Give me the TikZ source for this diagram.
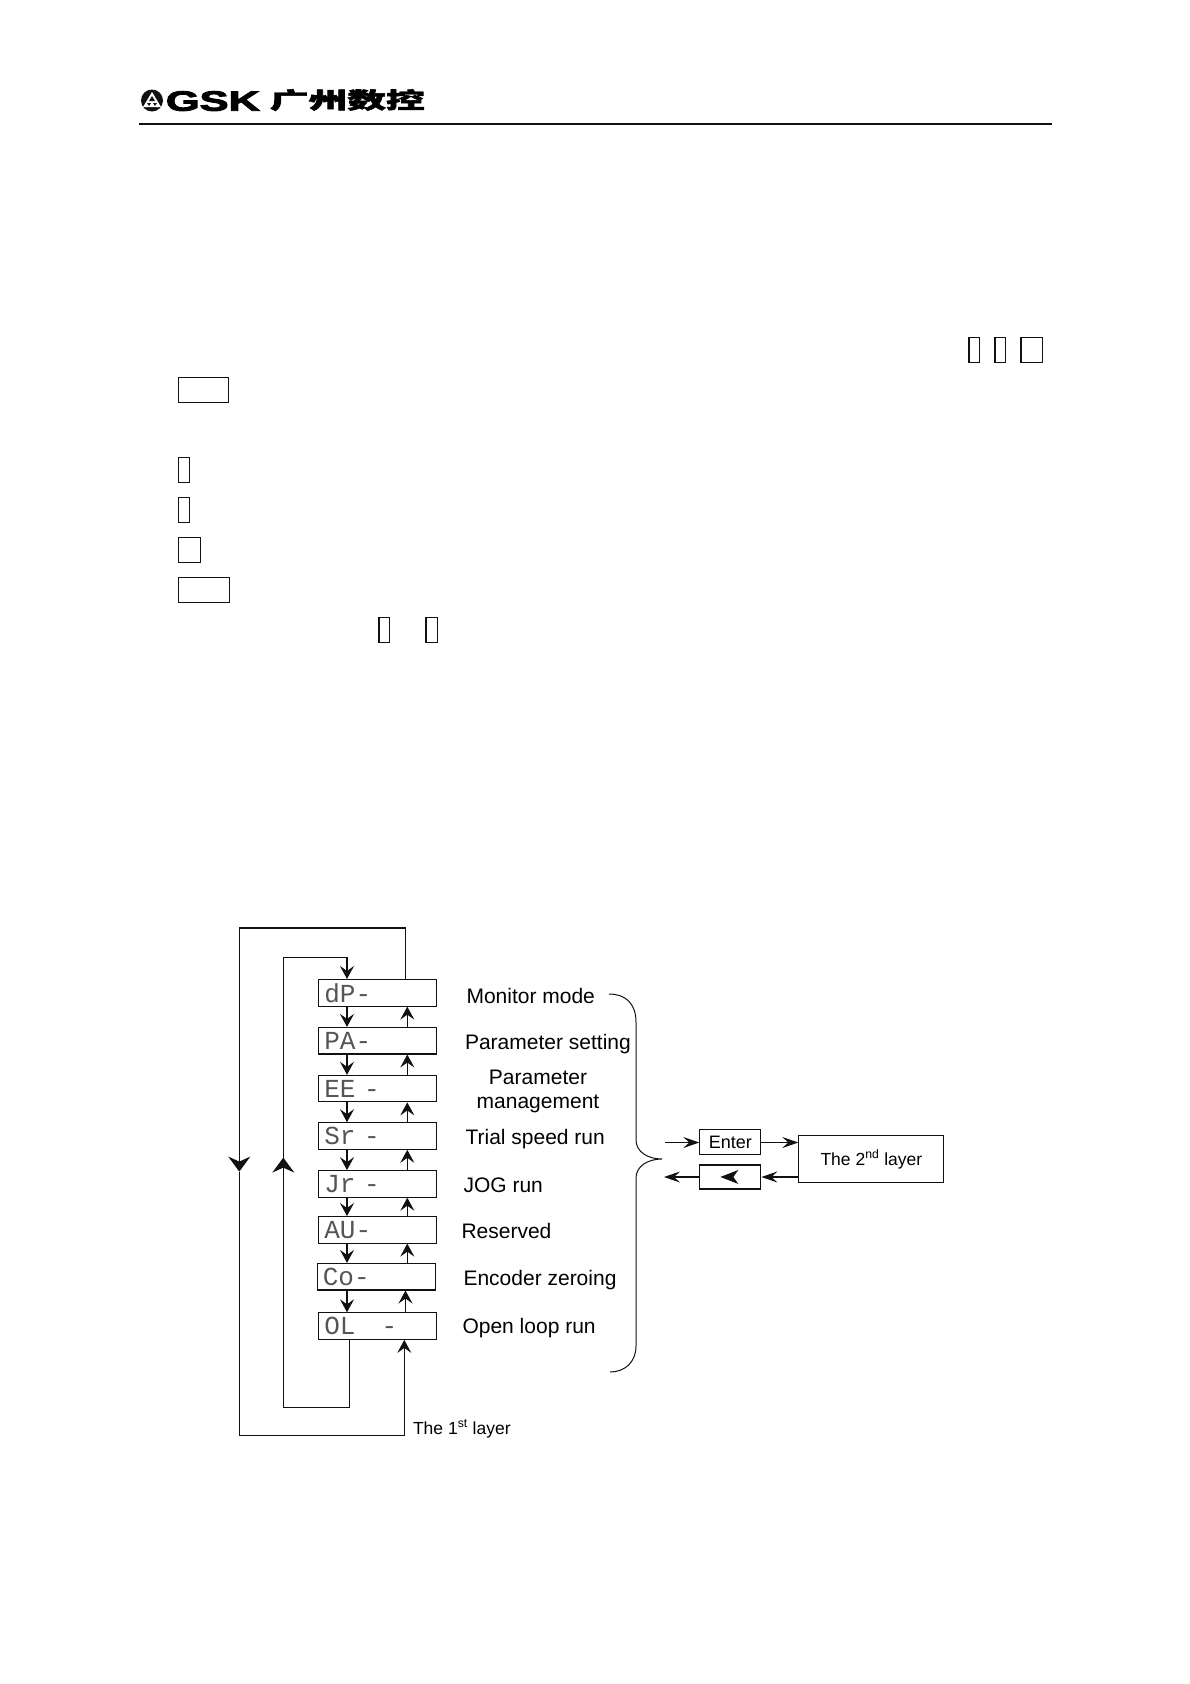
\documentclass[tikz,border=0pt]{standalone}
\usepackage{fontspec}
\setmainfont{Liberation Sans}
\setmonofont{Liberation Mono}
\newfontfamily\cjkfont[BoldFeatures={FakeBold=2}]{Noto Sans CJK SC}
\newfontfamily\logofont[BoldFeatures={FakeBold=3}]{Liberation Sans}
\usetikzlibrary{arrows.meta, positioning, calc}
\definecolor{inkBlack}{HTML}{111111}
\definecolor{segGray}{HTML}{555555}

\begin{document}
\begin{tikzpicture}[
    x=1pt, y=-1pt, line width=1.1pt, draw=inkBlack,
    dispbox/.style={draw, rectangle, minimum width=118pt, minimum height=26.5pt,
                 inner sep=0pt, text width=107pt, align=left,
                 font=\fontsize{26}{26}\selectfont\ttfamily\color{segGray}},
    keybox/.style={draw, rectangle, inner sep=0pt, minimum height=25pt, line width=1.2pt},
    lbl/.style={anchor=base west, inner sep=0pt, font=\fontsize{21}{24}\selectfont},
    smalllbl/.style={inner sep=0pt, font=\fontsize{17.5}{20}\selectfont},
    stepline/.style={-{Stealth[inset=5pt, length=13pt, width=14pt]}},
    sideline/.style={-{Stealth[inset=6pt, length=16pt, width=11pt]}},
    bigline/.style={-{Stealth[inset=5pt, length=15pt, width=22pt]}},
  ]
    \path[use as bounding box] (0,0) rectangle (1190,1684);

    \fill[inkBlack] (152,100.5) circle (11);
    \fill[white] (152,92) -- (161,107) -- (143,107) -- cycle;
    \fill[inkBlack] (152,96) -- (155,101) -- (149,101) -- cycle;
    \fill[inkBlack] (147,103) -- (151,103) -- (149,106) -- cycle;
    \fill[inkBlack] (153,103) -- (157,103) -- (155,106) -- cycle;
    \node[inner sep=0pt, anchor=base west, xscale=1.55, transform shape,
          font=\fontsize{28}{28}\selectfont\logofont\bfseries] (logogsk) at (165,110.7) {GSK};
    \node[inner sep=0pt, anchor=base west, xscale=1.72, transform shape,
          font=\fontsize{22.5}{23}\selectfont\cjkfont\bfseries] (logocn) at (269,108.5) {广州数控};
    \draw[line width=1.2pt] (139,124) -- (1052,124);

    \node[keybox, anchor=north west, minimum width=10.5pt] (ka) at (968.3,337) {};
    \node[keybox, anchor=north west, minimum width=10.5pt] (kb) at (994.3,337) {};
    \node[keybox, anchor=north west, minimum width=21.5pt] (kc) at (1020.3,337) {};
    \node[keybox, anchor=north west, minimum width=49.5pt] (kd) at (178,377) {};
    \node[keybox, anchor=north west, minimum width=10.5pt] (ke) at (178,457) {};
    \node[keybox, anchor=north west, minimum width=10.5pt] (kf) at (178,497) {};
    \node[keybox, anchor=north west, minimum width=21.5pt] (kg) at (178,537) {};
    \node[keybox, anchor=north west, minimum width=50.5pt] (kh) at (178,577) {};
    \node[keybox, anchor=north west, minimum width=10.5pt] (ki) at (378.3,617) {};
    \node[keybox, anchor=north west, minimum width=11.5pt] (kj) at (425.3,617) {};

    \node[dispbox, anchor=north west] (dp) at (318.3,979) {dP-};
    \node[dispbox, below=20.3pt of dp] (pa) {PA-};
    \node[dispbox, below=20.3pt of pa] (ee) {EE -};
    \node[dispbox, below=19.8pt of ee] (sr) {Sr -};
    \node[dispbox, below=20.3pt of sr] (jr) {Jr  -};
    \node[dispbox, below=18.3pt of jr] (au) {AU-};
    \node[dispbox, below=19.3pt of au, xshift=-1.5pt] (co) {Co-};
    \node[dispbox, below=21.8pt of co, xshift=1.5pt]  (ol) {OL\ \ \ -};

    \coordinate (dnx) at (347,0);
    \coordinate (upx) at (407.3,0);
    \coordinate (upxb) at (405.5,0);
    \coordinate (loopa) at (283.3,957.3);
    \coordinate (loopb) at (283.3,1407.3);
    \coordinate (loopc) at (283.3,1157.6);
    \coordinate (outa) at (239.3,928);
    \coordinate (outb) at (239.3,1435.7);
    \coordinate (outc) at (239.3,1171.6);

    \draw[stepline] (dp.south -| dnx) -- (pa.north -| dnx);
    \draw[stepline] (pa.south -| dnx) -- (ee.north -| dnx);
    \draw[stepline] (ee.south -| dnx) -- (sr.north -| dnx);
    \draw[stepline] (sr.south -| dnx) -- (jr.north -| dnx);
    \draw[stepline] (jr.south -| dnx) -- (au.north -| dnx);
    \draw[stepline] (au.south -| dnx) -- (co.north -| dnx);
    \draw[stepline] (co.south -| dnx) -- (ol.north -| dnx);

    \draw[stepline] (pa.north -| upx) -- (dp.south -| upx);
    \draw[stepline] (ee.north -| upx) -- (pa.south -| upx);
    \draw[stepline] (sr.north -| upx) -- (ee.south -| upx);
    \draw[stepline] (jr.north -| upx) -- (sr.south -| upx);
    \draw[stepline] (au.north -| upx) -- (jr.south -| upx);
    \draw[stepline] (co.north -| upx) -- (au.south -| upx);
    \draw[stepline] (ol.north -| upxb) -- (co.south -| upxb);

    \draw[bigline] (ol.south -| 349.3,0) |- (loopb) -- (loopc);
    \draw[stepline] (loopc) -- (loopa) -- (loopa -| dnx) -- (dp.north -| dnx);
    \draw[bigline] (dp.north -| upxb) |- (outa) -- (outc);
    \draw[stepline] (outc) -- (outb) -- (outb -| 404.3,0) -- (ol.south -| 404.3,0);

    \node[lbl] (l1) at (466,1003) {Monitor mode};
    \node[lbl] (l2) at (464.5,1049) {Parameter setting};
    \node[lbl, anchor=base, align=center] (l3) at (538,1108) {Parameter\\management};
    \node[lbl] (l4) at (465,1144) {Trial speed run};
    \node[lbl] (l5) at (463,1192) {JOG run};
    \node[lbl] (l6) at (461,1238.7) {Reserved};
    \node[lbl] (l7) at (463,1285) {Encoder zeroing};
    \node[lbl] (l8) at (462,1333) {Open loop run};
    \node[smalllbl, anchor=base west] (first) at (412.5,1434) {The 1\textsuperscript{st} layer};

    \draw[line width=1pt] (609,994) .. controls (625,994) and (636,1003) .. (636,1022)
      -- (636,1140) .. controls (636,1152) and (648,1159) .. (662,1159)
      .. controls (648,1159) and (636,1166) .. (636,1178)
      -- (636,1346) .. controls (636,1362) and (625,1372) .. (610,1372);

    \node[draw, rectangle, anchor=north west, minimum width=61pt, minimum height=25pt,
          inner sep=0pt, font=\fontsize{18}{20}\selectfont] (enter) at (699.3,1129.3) {Enter};
    \node[draw, rectangle, below=9pt of enter, minimum width=61pt, minimum height=24pt,
          inner sep=0pt] (back) {};
    \node[draw, rectangle, anchor=north west, minimum width=145pt, minimum height=47pt,
          inner sep=0pt, font=\fontsize{17.5}{20}\selectfont] (second) at (798.3,1135.3)
      {The 2\textsuperscript{nd} layer};
    \fill[inkBlack] ([xshift=-10pt]back.center) -- ([xshift=8pt,yshift=7pt]back.center)
      -- ([xshift=3pt]back.center) -- ([xshift=8pt,yshift=-7pt]back.center) -- cycle;

    \coordinate (infree) at (665,1142.5);
    \coordinate (outfree) at (664,1177);
    \draw[sideline] (infree) -- (infree -| enter.west);
    \draw[sideline] (infree -| enter.east) -- (infree -| second.west);
    \draw[sideline] (outfree -| second.west) -- (outfree -| back.east);
    \draw[sideline] (outfree -| back.west) -- (outfree);
\end{tikzpicture}
\end{document}
